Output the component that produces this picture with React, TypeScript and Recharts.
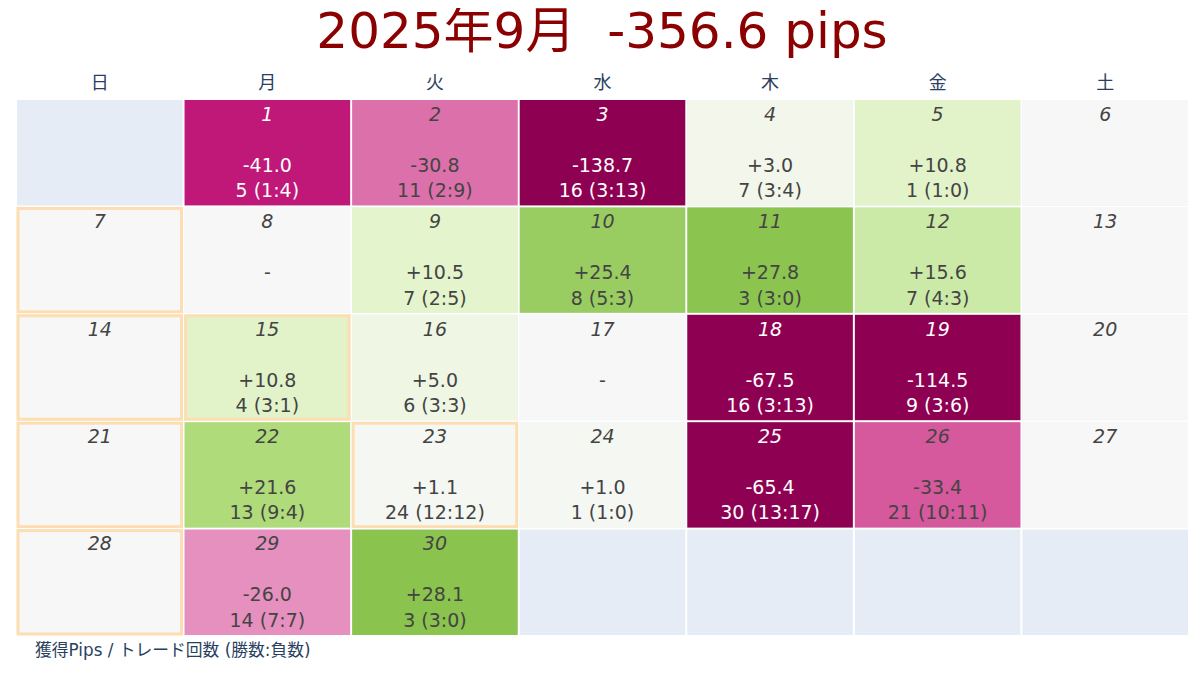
import { ScatterChart, Scatter, XAxis, YAxis, CartesianGrid } from 'recharts';

// calendar for 2025-09, first day is a Monday
const TITLE = '2025年9月  -356.6 pips';
const FOOTNOTE = '獲得Pips / トレード回数 (勝数:負数)';
const WEEKDAYS = ['日', '月', '火', '水', '木', '金', '土'];
const FIRST_WEEKDAY = 1;

const DAYS = [1, 2, 3, 4, 5, 6, 7, 8, 9, 10, 11, 12, 13, 14, 15, 16, 17, 18, 19, 20, 21, 22, 23, 24, 25, 26, 27, 28, 29, 30];
// null = weekend (no market), 0 with 0 trades = no trade
const PIPS = [-41.0, -30.8, -138.7, 3.0, 10.8, null, null, 0, 10.5, 25.4, 27.8, 15.6, null, null, 10.8, 5.0, 0, -67.5, -114.5, null, null, 21.6, 1.1, 1.0, -65.4, -33.4, null, null, -26.0, 28.1];
const WINS = [1, 2, 3, 3, 1, null, null, 0, 2, 5, 3, 4, null, null, 3, 3, 0, 3, 3, null, null, 9, 12, 1, 13, 10, null, null, 7, 3];
const LOSSES = [4, 9, 13, 4, 0, null, null, 0, 5, 3, 0, 3, null, null, 1, 3, 0, 13, 6, null, null, 4, 12, 0, 17, 11, null, null, 7, 0];
const HOLIDAYS = [7, 14, 15, 21, 23, 28];

const Z_MIN = -50;
const Z_MAX = 50;
const PIYG = ['#8e0152', '#c51b7d', '#de77ae', '#f1b6da', '#fde0ef', '#f7f7f7', '#e6f5d0', '#b8e186', '#7fbc41', '#4d9221', '#276419'];

const W = 1204;
const H = 678;
const M = { top: 69, right: 15, bottom: 42, left: 16 };
const HEADER_H = 30;
const PLOT_W = W - M.left - M.right;
const PLOT_H = H - M.top - HEADER_H - M.bottom;
const CELL_W = PLOT_W / 7;
const CELL_H = PLOT_H / 5;
const FONT = '"DejaVu Sans", "Noto Sans CJK JP", sans-serif';

const hexToRgb = (h: string) => [1, 3, 5].map((i) => parseInt(h.slice(i, i + 2), 16));

const colorFor = (v: number) => {
  let t = (v - Z_MIN) / (Z_MAX - Z_MIN);
  t = Math.max(0, Math.min(1, t));
  const pos = t * (PIYG.length - 1);
  const i = Math.min(Math.floor(pos), PIYG.length - 2);
  const f = pos - i;
  const a = hexToRgb(PIYG[i]);
  const b = hexToRgb(PIYG[i + 1]);
  const c = a.map((x, k) => Math.round(x + (b[k] - x) * f));
  return `rgb(${c[0]},${c[1]},${c[2]})`;
};

const isDark = (v: number) => {
  const c = colorFor(v).match(/\d+/g)!.map(Number);
  return (0.299 * c[0] + 0.587 * c[1] + 0.114 * c[2]) / 255 < 0.45;
};

const cells = DAYS.map((day, i) => {
  const idx = FIRST_WEEKDAY + day - 1;
  return {
    day,
    col: (idx % 7) + 0.5,
    row: Math.floor(idx / 7) + 0.5,
    pips: PIPS[i],
    wins: WINS[i],
    losses: LOSSES[i],
    holiday: HOLIDAYS.includes(day),
  };
});

// anchor points so the weekday axis has something to scale
const headerPoints = WEEKDAYS.map((_, i) => ({ col: i + 0.5, row: 0.5 }));

const CellShape = (props: any) => {
  const { cx, cy, payload } = props;
  const x0 = cx - CELL_W / 2;
  const y0 = cy - CELL_H / 2;
  const v = payload.pips ?? 0;
  const txt = isDark(v) ? '#ffffff' : '#444444';
  const trades = (payload.wins ?? 0) + (payload.losses ?? 0);
  const sign = v > 0 ? '+' : '';
  return (
    <g>
      <rect x={x0 + 1} y={y0 + 1} width={CELL_W - 2} height={CELL_H - 2} fill={colorFor(v)} />
      {payload.holiday && (
        <rect x={x0 + 2} y={y0 + 2} width={CELL_W - 4} height={CELL_H - 4} fill="none" stroke="#FDDDB2" strokeWidth={3} />
      )}
      <text x={cx} y={cy - 39} textAnchor="middle" dominantBaseline="central" fontSize={19} fontStyle="italic" fill={txt} fontFamily={FONT}>
        {payload.day}
      </text>
      {payload.pips !== null && (
        <text x={cx} y={cy + 12} textAnchor="middle" dominantBaseline="central" fontSize={19} fill={txt} fontFamily={FONT}>
          {trades === 0 ? '-' : `${sign}${v.toFixed(1)}`}
        </text>
      )}
      {payload.pips !== null && trades > 0 && (
        <text x={cx} y={cy + 37.5} textAnchor="middle" dominantBaseline="central" fontSize={19} fill={txt} fontFamily={FONT}>
          {`${trades} (${payload.wins}:${payload.losses})`}
        </text>
      )}
    </g>
  );
};

export default function App() {
  return (
    <div style={{ position: 'relative', width: W, height: H, margin: -8, background: '#fff' }}>
      <ScatterChart width={W} height={H} margin={M}>
        <CartesianGrid xAxisId="cal" fill="#E5ECF6" stroke="#ffffff" strokeWidth={2} />
        <XAxis xAxisId="cal" type="number" dataKey="col" domain={[0, 7]} ticks={[0, 1, 2, 3, 4, 5, 6, 7]} hide />
        <XAxis
          xAxisId="wd"
          orientation="top"
          type="number"
          dataKey="col"
          domain={[0, 7]}
          ticks={[0.5, 1.5, 2.5, 3.5, 4.5, 5.5, 6.5]}
          interval={0}
          tickFormatter={(v: number) => WEEKDAYS[Math.floor(v)]}
          axisLine={false}
          tickLine={false}
          tickMargin={4}
          height={HEADER_H}
          tick={{ fill: '#2A3F5F', fontSize: 18, fontFamily: FONT }}
        />
        <YAxis type="number" dataKey="row" domain={[0, 5]} ticks={[0, 1, 2, 3, 4, 5]} reversed hide />
        <Scatter xAxisId="wd" data={headerPoints} shape={() => <g />} isAnimationActive={false} />
        <Scatter xAxisId="cal" data={cells} shape={<CellShape />} isAnimationActive={false} />
      </ScatterChart>
      <svg width={W} height={H} style={{ position: 'absolute', left: 0, top: 0, pointerEvents: 'none' }}>
        <text x={602} y={48} textAnchor="middle" fontSize={50} fill="#8B0000" fontFamily={FONT} style={{ whiteSpace: 'pre' }}>
          {TITLE}
        </text>
        <text x={35} y={655.5} fontSize={16.8} fill="#2A3F5F" fontFamily={FONT}>
          {FOOTNOTE}
        </text>
      </svg>
    </div>
  );
}
